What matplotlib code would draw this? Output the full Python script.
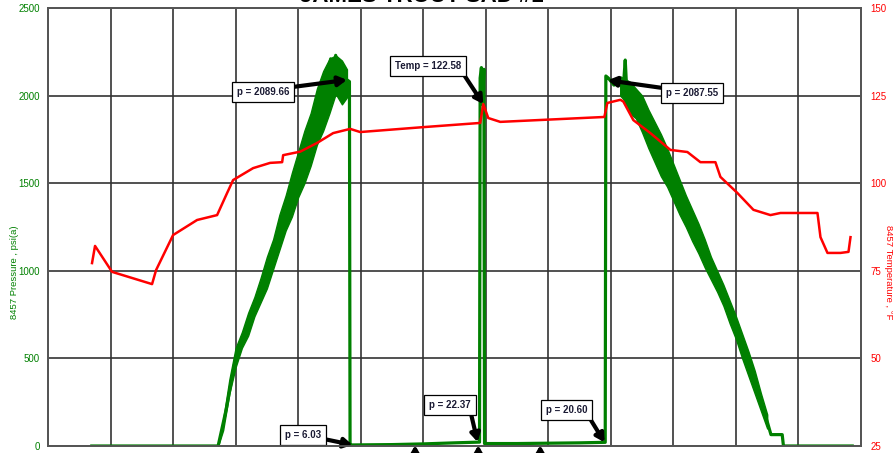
import matplotlib.pyplot as plt

plt.rcParams['font.family'] = ['Liberation Sans', 'DejaVu Sans']

# ---------------------------------------------------------
# Gauge 8457 data (elapsed time in arbitrary grid units)
# ---------------------------------------------------------
press_time = [0.70, 2.72, 2.85, 3.00, 3.20, 3.40, 3.60, 3.80, 4.00, 4.20, 4.40,
              4.52, 4.56, 4.60, 4.65, 4.70, 4.74, 4.78, 4.82, 4.83, 4.86, 5.50,
              6.00, 6.50, 6.88, 6.90, 6.91, 6.93, 6.95, 6.97, 6.98, 7.50, 8.00,
              8.50, 8.91, 8.92, 8.96, 9.05, 9.12, 9.20, 9.23, 9.25, 9.30, 9.50,
              9.70, 9.90, 10.10, 10.30, 10.50, 10.70, 10.90, 11.10, 11.30, 11.50,
              11.56, 11.74, 11.76, 12.86]
press_psi = [0, 0, 210, 500, 700, 890, 1100, 1330, 1550, 1750, 1970,
             2210, 2000, 2230, 2050, 2170, 1980, 2090, 2080, 6, 6, 8,
             12, 18, 22, 22, 2100, 2160, 1950, 2150, 14, 14, 16,
             18, 21, 2112, 2100, 2060, 2080, 2050, 2203, 2060, 1990, 1900,
             1730, 1600, 1420, 1260, 1100, 940, 765, 570, 365, 140,
             65, 65, 0, 0]

# spread of the noisy pressure trace on the two ramps (low / high, psi)
rise_time = [2.72, 2.80, 2.90, 3.00, 3.10, 3.20, 3.30, 3.40, 3.50, 3.60, 3.70,
             3.80, 3.90, 4.00, 4.10, 4.20, 4.30, 4.40, 4.50, 4.60, 4.70, 4.78]
rise_low = [0, 90, 300, 450, 560, 630, 740, 820, 900, 1010, 1120,
            1230, 1310, 1420, 1500, 1600, 1720, 1800, 1900, 2010, 1950, 1990]
rise_high = [0, 150, 380, 560, 650, 760, 850, 960, 1080, 1180, 1320,
             1430, 1560, 1680, 1800, 1900, 2040, 2140, 2210, 2230, 2200, 2150]
fall_time = [9.15, 9.20, 9.30, 9.40, 9.50, 9.60, 9.70, 9.80, 9.90, 10.00,
             10.10, 10.20, 10.30, 10.40, 10.50, 10.60, 10.70, 10.80, 10.90,
             11.00, 11.10, 11.20, 11.30, 11.40, 11.50]
fall_low = [2000, 1980, 1900, 1870, 1790, 1700, 1620, 1540, 1480, 1400,
            1320, 1250, 1170, 1100, 1020, 950, 880, 800, 700,
            610, 500, 400, 300, 200, 100]
fall_high = [2110, 2100, 2080, 2040, 2000, 1920, 1850, 1780, 1700, 1610,
             1520, 1430, 1350, 1270, 1180, 1080, 1000, 920, 830,
             740, 640, 540, 430, 300, 180]

temp_time = [0.704, 0.752, 1.024, 1.664, 1.728, 2.000, 2.384, 2.704, 2.864, 2.960,
             3.280, 3.552, 3.744, 3.760, 4.032, 4.304, 4.560, 4.832, 4.992, 6.000,
             6.912, 6.960, 7.040, 7.232, 8.896, 8.944, 9.152, 9.200, 9.360, 9.632,
             9.952, 10.224, 10.432, 10.672, 10.752, 11.024, 11.280, 11.552, 11.712,
             12.304, 12.352, 12.464, 12.672, 12.800, 12.832]
temp_f = [77.2, 82.1, 74.7, 71.2, 75.2, 85.2, 89.5, 90.9, 97.2, 100.9,
          104.3, 105.8, 106.0, 108.0, 109.0, 111.5, 114.3, 115.5, 114.6, 116.0,
          117.2, 122.6, 118.6, 117.5, 118.9, 122.9, 123.8, 123.3, 118.0, 114.3,
          109.5, 108.9, 106.0, 106.0, 101.8, 97.2, 92.4, 90.9, 91.5,
          91.5, 84.6, 80.1, 80.1, 80.4, 84.6]

# pressure callouts: label, tip (time, psi), box centre (time, psi), arrow start on box
press_notes = [
    ('p = 2089.66', (4.78, 2089.66), (3.44, 2021), (1.0, 0.95)),
    ('p = 6.03', (4.87, 6.03), (4.08, 63), (1.0, 0.15)),
    ('p = 22.37', (6.87, 22.37), (6.43, 234), (0.98, 0.0)),
    ('p = 20.60', (8.90, 20.60), (8.29, 205), (1.0, 0.1)),
    ('p = 2087.55', (8.95, 2087.55), (10.30, 2015), (0.0, 0.95)),
]
temp_note = ('Temp = 122.58', (6.96, 122.58), (6.08, 133.5), (1.0, 0.0))
# arrows from callouts below the visible area
lower_tips = [5.87, 6.88, 7.87]

GREEN = '#008000'
RED = '#ff0000'

fig = plt.figure(figsize=(8.93, 4.53), dpi=100)
ax = fig.add_axes([48 / 893, 7 / 453, 813 / 893, 438 / 453])
ax2 = ax.twinx()

ax.set_xlim(0, 13)
ax.set_ylim(0, 2500)
ax2.set_ylim(25, 150)
ax.set_xticks(range(0, 14))
ax.set_yticks(range(0, 2501, 500))
ax2.set_yticks(range(25, 151, 25))
ax.set_xticklabels([])
ax.grid(True, color='#333333', linewidth=1.2)
ax.tick_params(axis='both', length=0)
ax.tick_params(axis='y', labelsize=7, labelcolor=GREEN, pad=6)
ax2.tick_params(axis='y', length=0, labelsize=7, labelcolor=RED, pad=7)
for a in (ax, ax2):
    for s in a.spines.values():
        s.set_color('#555555')
        s.set_linewidth(1.3)

ax.fill_between(rise_time, rise_low, rise_high, color=GREEN, lw=1.0, zorder=3)
ax.fill_between(fall_time, fall_low, fall_high, color=GREEN, lw=1.0, zorder=3)
ax.plot(press_time, press_psi, color=GREEN, linewidth=2.3, zorder=3)
ax2.plot(temp_time, temp_f, color=RED, linewidth=1.8, zorder=3)

box = dict(boxstyle='square,pad=0.5', fc='white', ec='black', lw=0.9)


def arrow_props(rel):
    return dict(arrowstyle='-|>,head_length=0.7,head_width=0.4', color='black',
                lw=3.0, shrinkA=0, shrinkB=0, relpos=rel)


for label, tip, pos, rel in press_notes:
    ax.annotate(label, xy=tip, xytext=pos, fontsize=7, fontweight='bold',
                color='#1a1a33', ha='center', va='center', bbox=box,
                arrowprops=arrow_props(rel), zorder=6)

ax2.annotate(temp_note[0], xy=temp_note[1], xytext=temp_note[2], fontsize=7,
             fontweight='bold', color='#1a1a33', ha='center', va='center',
             bbox=box, arrowprops=arrow_props(temp_note[3]), zorder=6)

for t in lower_tips:
    ax.annotate('', xy=(t, 5), xytext=(t, -200), arrowprops=arrow_props((0.5, 0.5)),
                annotation_clip=False)

fig.text(0.016, 0.40, '8457 Pressure , psi(a)', rotation=90, color=GREEN,
         fontsize=6.8, ha='center', va='center')
fig.text(0.995, 0.40, '8457 Temperature , \u00b0F', rotation=270, color=RED,
         fontsize=6.8, ha='center', va='center')
fig.text(422 / 893, 1 - 2 / 453, 'JAMES TROUT SAD #1', fontsize=16,
         fontweight='bold', ha='center', va='baseline')

fig.savefig('out.png', dpi=100)
